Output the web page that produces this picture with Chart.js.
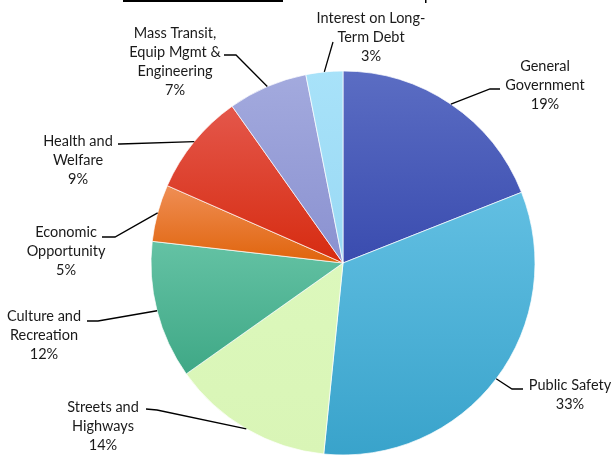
<!DOCTYPE html>
<html>
<head>
<meta charset="utf-8">
<script src="https://cdn.jsdelivr.net/npm/chart.js@4.4.1/dist/chart.umd.min.js"></script>
<style>
  html, body { margin: 0; padding: 0; background: #fff; overflow: hidden; }
  #wrap { position: relative; width: 611px; height: 520px; }
</style>
</head>
<body>
<div id="wrap"><canvas id="pieChart"></canvas></div>
<script>
// Dados do gráfico
const categories = [
    ['General', 'Government'],
    ['Public Safety'],
    ['Streets and', 'Highways'],
    ['Culture and', 'Recreation'],
    ['Economic', 'Opportunity'],
    ['Health and', 'Welfare'],
    ['Mass Transit,', 'Equip Mgmt &', 'Engineering'],
    ['Interest on Long-', 'Term Debt']
];
const shares = [19.0, 32.6, 13.6, 11.6, 4.8, 8.6, 6.7, 3.1];

// Cores (topo -> base do gradiente de cada fatia)
const topColors = ['#5b6dc3', '#62bfe2', '#dcf8bc', '#64c2a4', '#ef8e55', '#e4574b', '#a3aade', '#a8e2f9'];
const bottomColors = ['#3a4caf', '#39a3cb', '#d9f5b6', '#3fa886', '#e0640c', '#d62b10', '#8a91d0', '#99d9f4'];

// Posição dos rótulos: ponto de quebra da linha, fim da linha e centro do texto
const labelLayout = [
    { elbow: [490, 89],  end: [500, 89],  tx: 545, ty: 66 },
    { elbow: [512, 389], end: [523, 389], tx: 570, ty: 385 },
    { elbow: [157, 410], end: [146, 409], tx: 103, ty: 407 },
    { elbow: [98, 321],  end: [87, 321],  tx: 44,  ty: 316 },
    { elbow: [115, 237], end: [102, 237], tx: 66,  ty: 232 },
    { elbow: [120, 144], end: [118, 144], tx: 78,  ty: 141 },
    { elbow: [236, 55],  end: [224, 55],  tx: 175, ty: 33 },
    { elbow: [333, 42],  end: [333, 42],  tx: 371, ty: 18 }
];

const total = shares.reduce((a, b) => a + b, 0);
const PIE_RADIUS = 192;

function sliceGradient(context) {
    const i = context.dataIndex;
    const chart = context.chart;
    const area = chart.chartArea;
    if (!area) return topColors[i];
    const cx = (area.left + area.right) / 2;
    const cy = (area.top + area.bottom) / 2;
    let cum = 0;
    for (let k = 0; k < i; k++) cum += shares[k];
    const a0 = -Math.PI / 2 + 2 * Math.PI * cum / total;
    const a1 = a0 + 2 * Math.PI * shares[i] / total;
    const ys = [cy, cy + PIE_RADIUS * Math.sin(a0), cy + PIE_RADIUS * Math.sin(a1)];
    if (a0 <= -Math.PI / 2 + 1e-6 || a1 >= 1.5 * Math.PI - 1e-6) ys.push(cy - PIE_RADIUS);
    if (a0 <= Math.PI / 2 && a1 >= Math.PI / 2) ys.push(cy + PIE_RADIUS);
    const yMin = Math.min(...ys);
    const yMax = Math.max(...ys);
    const g = chart.ctx.createLinearGradient(0, yMin, 0, yMax);
    g.addColorStop(0, topColors[i]);
    g.addColorStop(1, bottomColors[i]);
    return g;
}

// Plugin para desenhar rótulos externos com linhas
const outsideLabels = {
    id: 'outsideLabels',
    afterDraw(chart) {
        const ctx = chart.ctx;
        const meta = chart.getDatasetMeta(0);
        ctx.save();

        // sublinhado do título (cortado no topo)
        ctx.fillStyle = '#000';
        ctx.fillRect(123, 0, 160, 2);
        ctx.fillRect(425, 0, 1.5, 3);

        ctx.font = "14.5px Lato, 'Noto Sans', sans-serif";
        ctx.textAlign = 'center';
        ctx.textBaseline = 'middle';
        meta.data.forEach((arc, i) => {
            const lay = labelLayout[i];
            const mid = (arc.startAngle + arc.endAngle) / 2;
            const px = arc.x + Math.cos(mid) * arc.outerRadius;
            const py = arc.y + Math.sin(mid) * arc.outerRadius;

            ctx.strokeStyle = '#000';
            ctx.lineWidth = 1.3;
            ctx.beginPath();
            ctx.moveTo(px, py);
            ctx.lineTo(lay.elbow[0], lay.elbow[1]);
            ctx.lineTo(lay.end[0], lay.end[1]);
            ctx.stroke();

            const lines = categories[i].concat([Math.round(shares[i] / total * 100) + '%']);
            ctx.fillStyle = '#1a1a1a';
            lines.forEach((t, j) => ctx.fillText(t, lay.tx, lay.ty + j * 19));
        });
        ctx.restore();
    }
};

document.addEventListener('DOMContentLoaded', function() {
    const pieCtx = document.getElementById('pieChart');
    new Chart(pieCtx, {
        type: 'pie',
        data: {
            labels: categories,
            datasets: [{
                data: shares,
                backgroundColor: sliceGradient,
                borderColor: 'rgba(255,255,255,0.7)',
                borderWidth: 1
            }]
        },
        options: {
            responsive: true,
            maintainAspectRatio: false,
            animation: false,
            radius: PIE_RADIUS,
            layout: { padding: { left: 75, right: 0, top: 71, bottom: 65 } },
            plugins: {
                legend: { display: false },
                tooltip: { enabled: false }
            }
        },
        plugins: [outsideLabels]
    });
});
</script>
</body>
</html>
